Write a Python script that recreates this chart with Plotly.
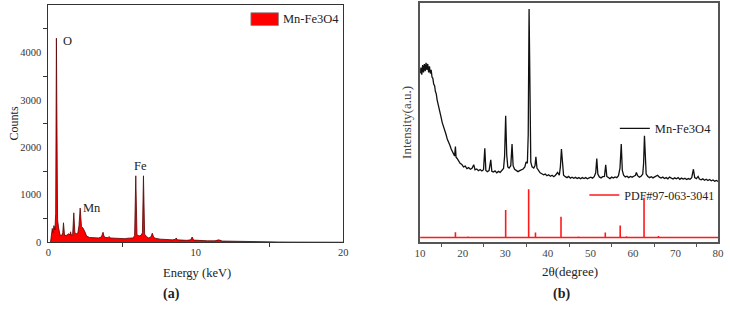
import plotly.graph_objects as go

# ---------------- (a) EDS spectrum ----------------
eds_energy = [0.15, 0.2, 0.27, 0.32, 0.38, 0.45, 0.5, 0.55, 0.6, 0.63, 0.7, 0.8, 0.9, 0.98, 1.03,
              1.1, 1.2, 1.3, 1.4, 1.47, 1.51, 1.56, 1.65, 1.73, 1.8, 1.9, 2.0, 2.08, 2.16, 2.25,
              2.35, 2.45, 2.6, 2.8, 3.0, 3.2, 3.4, 3.6, 3.66, 3.71, 3.78, 3.9, 4.05, 4.12, 4.2,
              4.4, 4.6, 4.8, 5.0, 5.2, 5.4, 5.6, 5.75, 5.85, 5.93, 6.01, 6.15, 6.3, 6.38, 6.45,
              6.53, 6.65, 6.8, 6.95, 7.05, 7.15, 7.3, 7.6, 8.0, 8.4, 8.6, 8.67, 8.75, 9.0, 9.4,
              9.65, 9.75, 9.85, 10.2, 10.8, 11.3, 11.55, 11.8, 12.4, 13.2, 14.0, 14.8, 15.6,
              16.5, 18.0, 20.0]
eds_counts = [0, 120, 290, 200, 350, 260, 600, 4300, 500, 470, 300, 150, 140, 200, 410,
              150, 140, 160, 180, 150, 220, 150, 160, 620, 200, 180, 190, 350, 720, 330,
              300, 240, 130, 100, 95, 100, 90, 110, 150, 210, 120, 100, 95, 120, 90,
              85, 90, 80, 85, 75, 85, 80, 90, 140, 1400, 160, 130, 150, 200, 1400,
              170, 120, 90, 110, 190, 100, 80, 65, 55, 50, 60, 90, 50, 45, 40,
              50, 110, 45, 35, 30, 30, 50, 25, 20, 15, 12, 8, 5,
              3, 1, 0]
eds_name = "Mn-Fe3O4"

# ---------------- (b) XRD pattern ----------------
xrd_2theta = [10.0, 10.2, 10.4, 10.6, 10.8, 11.0, 11.2, 11.4, 11.6, 11.8, 12.0, 12.2, 12.4, 12.6, 12.8,
              13.0, 13.2, 13.4, 13.6, 13.8, 14.0, 14.3, 14.6, 14.9, 15.2, 15.5, 15.8, 16.1, 16.4, 16.7,
              17.0, 17.3, 17.6, 17.9, 18.1, 18.3, 18.45, 18.7, 19.0, 19.4, 19.8, 20.2, 20.6, 21.0, 21.4,
              21.8, 22.2, 22.6, 22.9, 23.3, 23.7, 24.1, 24.5, 24.9, 25.2, 25.45, 25.8, 26.2, 26.6, 26.85,
              27.2, 27.6, 28.0, 28.4, 28.8, 29.2, 29.6, 29.85, 30.1, 30.35, 30.6, 30.9, 31.3, 31.6, 31.85,
              32.2, 32.6, 33.0, 33.4, 33.8, 34.2, 34.6, 34.9, 35.2, 35.4, 35.6, 35.8, 36.0, 36.3, 36.7,
              37.0, 37.2, 37.45, 37.8, 38.2, 38.6, 39.0, 39.4, 39.8, 40.2, 40.6, 41.0, 41.4, 41.8, 42.3,
              42.7, 42.95, 43.2, 43.45, 43.7, 44.1, 44.5, 44.9, 45.3, 45.7, 46.1, 46.5, 46.9, 47.3, 47.7,
              48.1, 48.5, 48.9, 49.3, 49.7, 50.1, 50.5, 50.9, 51.25, 51.5, 51.75, 52.1, 52.5, 52.9, 53.3,
              53.6, 53.85, 54.2, 54.6, 55.0, 55.4, 55.8, 56.2, 56.6, 56.95, 57.25, 57.5, 57.8, 58.2, 58.6,
              59.0, 59.4, 59.8, 60.2, 60.6, 60.8, 61.1, 61.5, 61.9, 62.3, 62.5, 62.7, 62.9, 63.1, 63.5,
              63.9, 64.3, 64.7, 65.1, 65.5, 65.8, 66.2, 66.6, 67.0, 67.4, 67.8, 68.2, 68.6, 69.0, 69.4,
              69.8, 70.2, 70.6, 71.0, 71.4, 71.8, 72.2, 72.6, 73.0, 73.4, 73.8, 74.2, 74.5, 74.9, 75.3,
              75.6, 76.0, 76.4, 76.8, 77.2, 77.6, 78.0, 78.4, 78.8, 79.2, 79.6, 80.0]
xrd_intensity = [70.5, 73.0, 70.0, 74.0, 71.0, 74.5, 71.5, 75.0, 72.0, 74.5, 71.0, 73.5, 70.5, 72.0, 69.0,
                 68.5, 66.0, 65.5, 63.0, 62.0, 59.5, 57.5, 54.5, 52.5, 50.0, 48.5, 46.5, 45.0, 43.0, 42.0,
                 40.5, 39.0, 38.0, 36.5, 36.0, 40.0, 35.5, 35.0, 34.0, 33.0, 32.5, 31.5, 31.8, 30.8, 31.2,
                 30.5, 30.9, 32.4, 30.3, 30.6, 29.9, 30.4, 29.8, 30.3, 39.3, 30.0, 29.5, 29.9, 34.4, 29.6,
                 29.3, 29.8, 29.0, 29.6, 29.2, 29.9, 30.8, 36.0, 52.9, 36.5, 31.5, 31.0, 32.0, 41.0, 32.0,
                 30.5, 30.0, 29.5, 29.9, 30.2, 30.6, 31.5, 33.6, 33.0, 45.0, 97.5, 45.0, 33.5, 31.5, 31.0,
                 32.0, 35.7, 31.0, 29.8, 29.0, 28.6, 28.2, 28.5, 27.8, 28.2, 27.6, 28.0, 27.4, 28.0, 29.2,
                 28.0, 31.5, 38.9, 31.5, 28.0, 27.4, 27.0, 27.5, 26.8, 27.2, 26.7, 27.1, 26.6, 27.0, 26.5,
                 27.0, 26.6, 27.0, 26.5, 26.9, 27.2, 26.8, 27.4, 29.0, 35.0, 28.5, 27.3, 26.9, 27.4, 27.5,
                 32.4, 27.5, 27.0, 26.6, 27.2, 26.8, 27.3, 27.0, 27.8, 31.0, 41.0, 30.0, 28.0, 27.3, 27.6,
                 27.0, 27.5, 27.2, 27.6, 28.0, 29.2, 27.8, 27.2, 27.6, 28.5, 33.0, 44.5, 33.0, 28.5, 27.5,
                 27.0, 27.4, 26.9, 27.3, 27.6, 28.0, 27.2, 26.8, 27.2, 26.6, 27.0, 26.5, 27.2, 26.7, 26.4,
                 26.9, 26.5, 27.0, 26.3, 26.8, 26.4, 26.7, 26.2, 26.6, 26.3, 27.0, 30.5, 27.0, 26.6, 27.5,
                 26.4, 26.1, 26.5, 25.9, 26.3, 25.8, 26.2, 25.7, 26.0, 25.5, 25.8, 25.4]

# reference pattern PDF#97-063-3041 (stick positions / stick tops, drawn above a baseline)
ref_2theta = [18.3, 21.3, 30.1, 35.5, 37.1, 43.1, 47.2, 53.5, 57.0, 58.5, 62.6, 66.0]
ref_top = [4.2, 2.4, 13.5, 22.1, 4.1, 10.7, 2.4, 4.1, 7.0, 2.5, 18.6, 2.6]
ref_base = 2.0
xrd_range = [10, 80]

# build the stick-pattern polyline from the data above
ref_x, ref_y = [xrd_range[0]], [ref_base]
for c, t in zip(ref_2theta, ref_top):
    ref_x += [c, c, c]
    ref_y += [ref_base, t, ref_base]
ref_x.append(xrd_range[1])
ref_y.append(ref_base)

W, H = 731, 311
SERIF = "'Liberation Serif', 'Times New Roman', serif"
TXT = "#222222"

fig = go.Figure()
fig.add_trace(go.Scatter(x=eds_energy, y=eds_counts, mode="lines", fill="tozeroy",
                         fillcolor="#ff0000", line=dict(color="#5a0000", width=0.8),
                         name=eds_name, showlegend=False, xaxis="x", yaxis="y"))
fig.add_trace(go.Scatter(x=xrd_2theta, y=xrd_intensity, mode="lines",
                         line=dict(color="#111111", width=1.3),
                         name="Mn-Fe3O4", xaxis="x2", yaxis="y2", legend="legend2"))
fig.add_trace(go.Scatter(x=ref_x, y=ref_y, mode="lines",
                         line=dict(color="#ff1a1a", width=1.6),
                         name="PDF#97-063-3041", xaxis="x2", yaxis="y2", legend="legend3"))

ydom = [1 - 247 / H, 1 - 5 / H]
ydom2 = [1 - 247 / H, 1 - 3 / H]
tickfont = dict(family=SERIF, size=10.5, color="#333333")

fig.update_layout(
    width=W, height=H, margin=dict(l=0, r=0, t=0, b=0),
    paper_bgcolor="white", plot_bgcolor="white",
    font=dict(family=SERIF, size=12.5, color=TXT),
    xaxis=dict(domain=[43 / W, 343 / W], range=[0, 20], tickvals=[0, 10, 20], ticks="",
               showline=True, linecolor="#333333", linewidth=1, mirror=True,
               showgrid=False, zeroline=False, tickfont=tickfont,
               minor=dict(tickvals=[5, 15], ticks="outside", ticklen=4, tickcolor="#333333")),
    yaxis=dict(domain=ydom, range=[0, 5000], tickvals=[0, 1000, 2000, 3000, 4000, 5000], ticks="",
               showline=True, linecolor="#333333", linewidth=1, mirror=True,
               showgrid=False, zeroline=False, tickfont=tickfont, ticklabelstandoff=4,
               minor=dict(tickvals=[500, 1500, 2500, 3500, 4500], ticks="outside", ticklen=4,
                          tickcolor="#333333")),
    xaxis2=dict(domain=[421 / W, 724 / W], range=xrd_range, tickvals=list(range(10, 81, 10)),
                ticks="", anchor="y2",
                showline=True, linecolor="#555555", linewidth=1.5, mirror=True,
                showgrid=False, zeroline=False, tickfont=dict(family=SERIF, size=11, color="#444444"),
                minor=dict(tickvals=list(range(15, 80, 10)), ticks="outside", ticklen=3,
                           tickcolor="#555555")),
    yaxis2=dict(domain=ydom2, range=[0, 100], showticklabels=False, ticks="", anchor="x2",
                showline=True, linecolor="#555555", linewidth=1.5, mirror=True,
                showgrid=False, zeroline=False),
    showlegend=True,
    legend2=dict(x=619 / W, y=1 - 116 / H, xanchor="left", yanchor="top", bgcolor="rgba(0,0,0,0)",
                 font=dict(family=SERIF, size=12.5, color=TXT), itemwidth=30),
    legend3=dict(x=588 / W, y=1 - 184 / H, xanchor="left", yanchor="top", bgcolor="rgba(0,0,0,0)",
                 font=dict(family=SERIF, size=12, color=TXT), itemwidth=30),
)

# legend of panel (a): filled swatch + label
fig.add_shape(type="rect", xref="paper", yref="paper",
              x0=249 / W, x1=277 / W, y0=1 - 26 / H, y1=1 - 13 / H,
              fillcolor="#ff0000", line=dict(color="#888888", width=0.8))
fig.add_annotation(xref="paper", yref="paper", x=280 / W, y=1 - 19.5 / H, text=eds_name,
                   showarrow=False, xanchor="left", yanchor="middle",
                   font=dict(family=SERIF, size=12.5, color=TXT))

ann = [
    dict(text="Counts", x=8 / W, y=1 - 126 / H, textangle=-90, font=dict(size=12)),
    dict(text="Energy (keV)", x=194 / W, y=1 - 278 / H),
    dict(text="<b>(a)</b>", x=168 / W, y=1 - 300 / H, font=dict(size=14)),
    dict(text="Intensity(a.u.)", x=407 / W, y=1 - 125 / H, textangle=-90,
         font=dict(size=13, color="#444444")),
    dict(text="2θ(degree)", x=573 / W, y=1 - 277 / H, font=dict(size=13)),
    dict(text="<b>(b)</b>", x=565 / W, y=1 - 300 / H, font=dict(size=14)),
]
for a in ann:
    f = dict(family=SERIF, size=12.5, color=TXT)
    f.update(a.pop("font", {}))
    fig.add_annotation(xref="paper", yref="paper", showarrow=False, xanchor="center",
                       yanchor="middle", font=f, **a)

labels = [("O", 1.3, 4235), ("Mn", 2.98, 723), ("Fe", 6.22, 1611)]
for t, x, y in labels:
    fig.add_annotation(xref="x", yref="y", x=x, y=y, text=t, showarrow=False,
                       font=dict(family=SERIF, size=12.5, color=TXT))

fig.write_html("out.html")
